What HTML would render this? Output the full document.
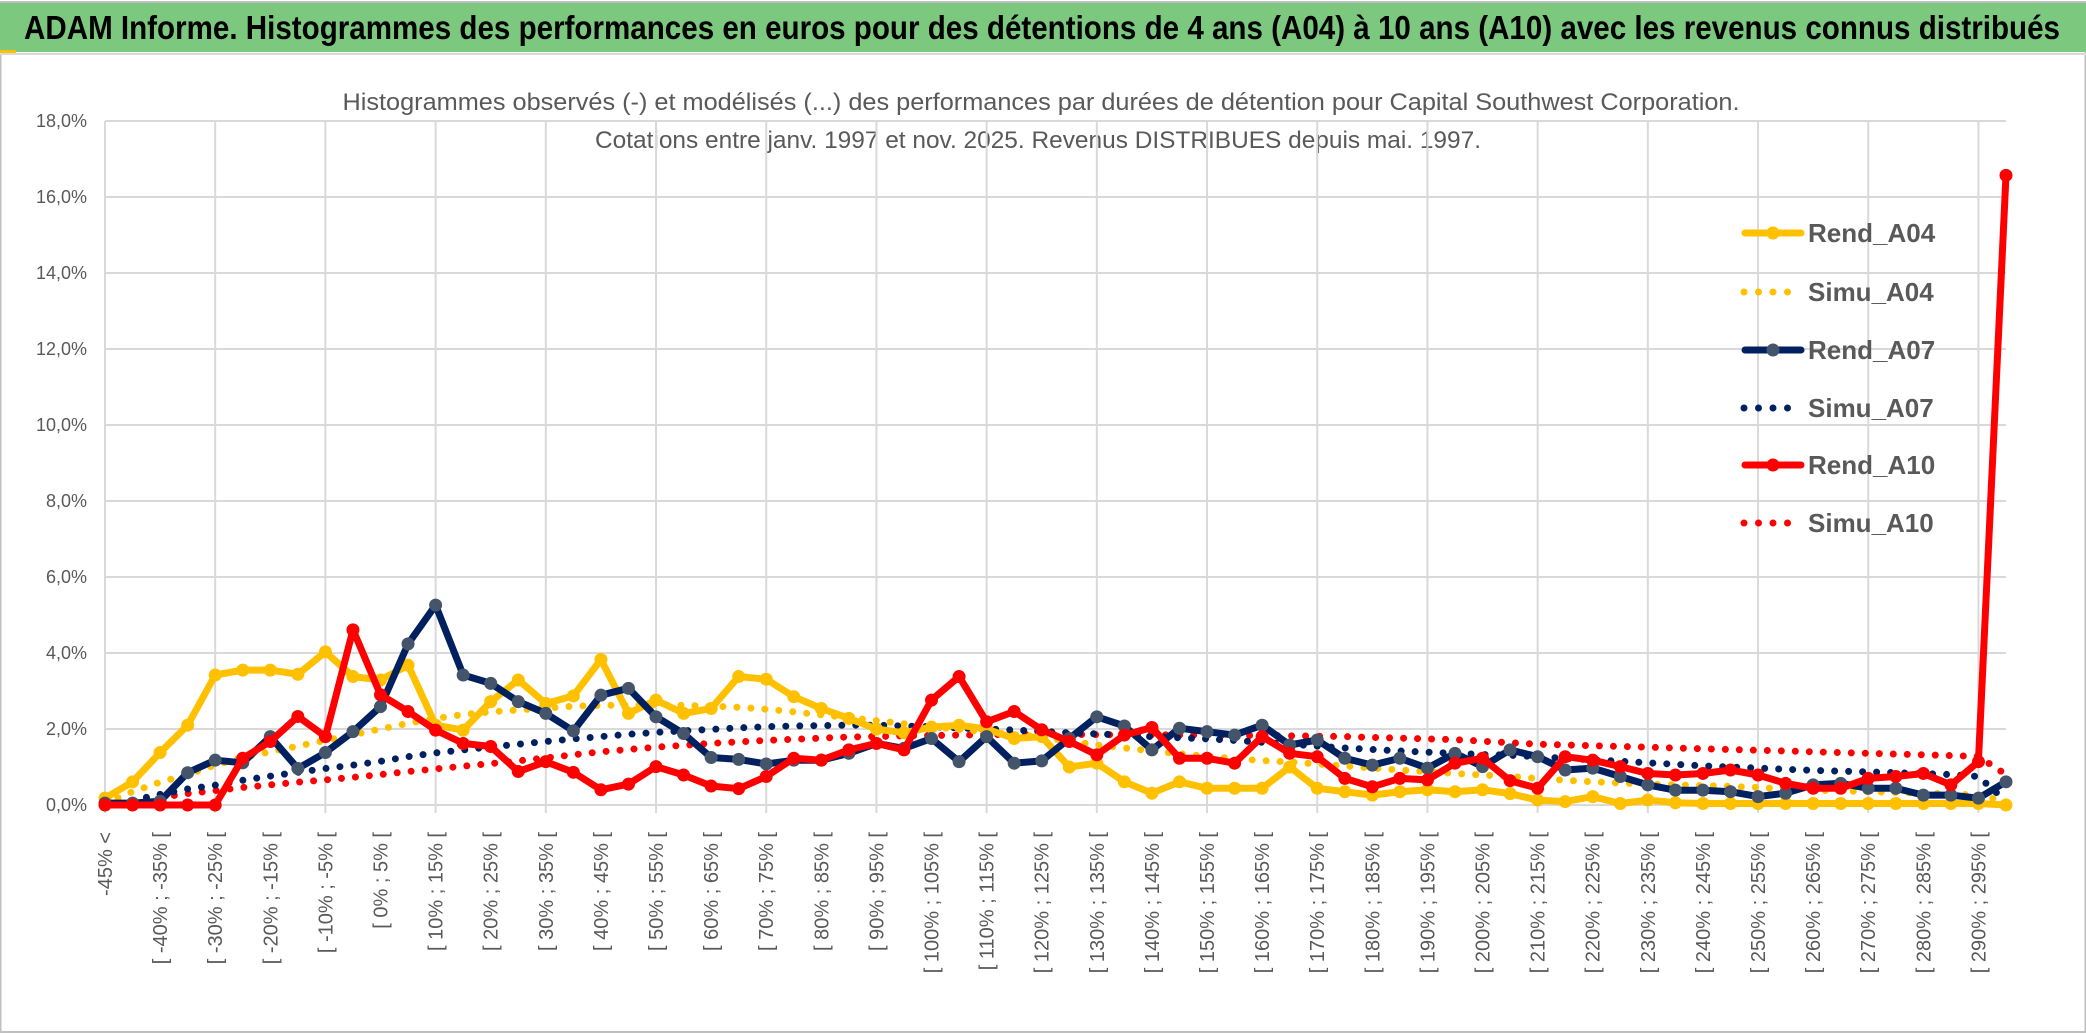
<!DOCTYPE html>
<html><head><meta charset="utf-8">
<style>
html,body{margin:0;padding:0;background:#fff;}
svg{display:block;}
text{font-family:"Liberation Sans Narrow","Liberation Sans",sans-serif;}
</style></head>
<body>
<svg id="chart" width="2086" height="1033" viewBox="0 0 2086 1033" xmlns="http://www.w3.org/2000/svg">
  <rect x="0" y="0" width="2086" height="1033" fill="#fff"/>
  <rect x="0.5" y="2" width="2085" height="1030" fill="none" stroke="#bfbfbf" stroke-width="2"/>
  <rect x="0" y="3" width="2086" height="49" fill="#7cc87e"/>
  <rect x="0" y="50" width="16" height="4" fill="#ffc000"/>
  <line x1="0" y1="54" x2="2086" y2="54" stroke="#d9d9d9" stroke-width="2"/>
  <text x="24" y="39" font-size="33" font-weight="bold" fill="#000" textLength="2036" lengthAdjust="spacingAndGlyphs">ADAM Informe. Histogrammes des performances en euros pour des détentions de 4 ans (A04) à 10 ans (A10) avec les revenus connus distribués</text>
  <text x="1041" y="110" font-size="24" fill="#595959" text-anchor="middle" textLength="1397" lengthAdjust="spacingAndGlyphs">Histogrammes observés (-) et modélisés (...) des performances par durées de détention pour Capital Southwest Corporation.</text>
  <text x="1038" y="148" font-size="24" fill="#595959" text-anchor="middle" textLength="886" lengthAdjust="spacingAndGlyphs">Cotations entre janv. 1997 et nov. 2025. Revenus DISTRIBUES depuis mai. 1997.</text>
  <g id="grid"></g>
  <g id="ylabels"></g>
  <g id="xlabels"></g>
  <g id="series"></g>
  <g id="legend"></g>
</svg>
<script>
const categoryCount = 70;
const yTicks = [0,2,4,6,8,10,12,14,16,18];
const rendA04 = [0.18,0.61,1.38,2.1,3.42,3.55,3.55,3.44,4.03,3.38,3.29,3.68,2.1,1.97,2.72,3.29,2.67,2.87,3.83,2.41,2.76,2.41,2.54,3.38,3.31,2.85,2.54,2.28,2.0,1.9,2.05,2.1,2.0,1.75,1.8,1.0,1.1,0.61,0.31,0.61,0.44,0.44,0.44,1.0,0.44,0.35,0.26,0.35,0.4,0.35,0.4,0.3,0.13,0.09,0.22,0.04,0.13,0.06,0.04,0.04,0.04,0.04,0.04,0.04,0.04,0.04,0.04,0.04,0.04,0.0];
const simuA04 = [0.05,0.35,0.6,0.8,1.05,1.25,1.4,1.55,1.7,1.85,2.0,2.15,2.28,2.38,2.45,2.5,2.55,2.6,2.62,2.63,2.63,2.62,2.6,2.57,2.52,2.45,2.37,2.3,2.22,2.14,2.06,1.99,1.92,1.85,1.79,1.68,1.58,1.5,1.42,1.35,1.28,1.22,1.17,1.13,1.08,1.03,0.97,0.92,0.88,0.83,0.79,0.75,0.7,0.65,0.61,0.58,0.55,0.53,0.51,0.49,0.46,0.42,0.39,0.37,0.35,0.33,0.31,0.29,0.26,0.1];
const rendA07 = [0.05,0.05,0.1,0.85,1.18,1.11,1.8,0.96,1.38,1.93,2.59,4.24,5.26,3.42,3.2,2.72,2.41,1.95,2.89,3.07,2.32,1.88,1.25,1.2,1.08,1.18,1.18,1.36,1.62,1.49,1.75,1.14,1.8,1.1,1.16,1.75,2.32,2.08,1.45,2.02,1.93,1.84,2.1,1.58,1.71,1.23,1.05,1.23,0.97,1.36,1.01,1.45,1.27,0.92,0.97,0.75,0.53,0.39,0.39,0.35,0.22,0.31,0.53,0.57,0.44,0.44,0.26,0.26,0.18,0.61];
const simuA07 = [0.02,0.12,0.28,0.42,0.52,0.65,0.76,0.86,0.96,1.05,1.15,1.27,1.37,1.45,1.53,1.6,1.67,1.74,1.8,1.86,1.91,1.95,1.99,2.03,2.06,2.08,2.09,2.1,2.1,2.08,2.06,2.03,2.0,1.97,1.94,1.9,1.87,1.84,1.8,1.77,1.74,1.7,1.65,1.6,1.55,1.5,1.46,1.42,1.39,1.36,1.33,1.31,1.27,1.23,1.19,1.15,1.11,1.07,1.03,1.0,0.97,0.94,0.91,0.89,0.87,0.85,0.83,0.8,0.75,0.1];
const rendA10 = [0,0,0,0,0,1.23,1.67,2.33,1.8,4.61,2.9,2.46,1.97,1.62,1.54,0.88,1.14,0.86,0.4,0.55,1.01,0.79,0.5,0.43,0.75,1.23,1.18,1.45,1.62,1.45,2.76,3.38,2.19,2.46,1.98,1.67,1.32,1.84,2.04,1.23,1.23,1.1,1.8,1.36,1.27,0.7,0.48,0.7,0.66,1.1,1.23,0.64,0.44,1.27,1.18,1.01,0.83,0.79,0.83,0.92,0.79,0.57,0.44,0.44,0.7,0.75,0.83,0.53,1.14,16.57];
const simuA10 = [0.0,0.1,0.2,0.3,0.38,0.46,0.53,0.6,0.66,0.73,0.8,0.88,0.95,1.02,1.09,1.16,1.24,1.32,1.4,1.46,1.52,1.57,1.62,1.66,1.7,1.73,1.76,1.79,1.8,1.82,1.83,1.84,1.85,1.86,1.86,1.86,1.85,1.85,1.85,1.84,1.84,1.83,1.83,1.82,1.81,1.8,1.78,1.76,1.74,1.72,1.68,1.64,1.6,1.58,1.56,1.54,1.52,1.5,1.48,1.46,1.44,1.42,1.4,1.38,1.36,1.34,1.32,1.3,1.28,0.8];
const legendNames = ["Rend_A04","Simu_A04","Rend_A07","Simu_A07","Rend_A10","Simu_A10"];

const NS = "http://www.w3.org/2000/svg";
const X0 = 105, X1 = 2006, Y0 = 805, Y1 = 121, YMAX = 18;
function xScale(i){ return X0 + i*(X1-X0)/(categoryCount-1); }
function yScale(v){ return Y0 - v*(Y0-Y1)/YMAX; }
function mk(tag, attrs, parent){ const e=document.createElementNS(NS,tag); for(const k in attrs) e.setAttribute(k,attrs[k]); parent.appendChild(e); return e; }
function catLabel(i){ if(i===0) return "-45% <"; const a=-50+5*i; return "[ "+a+"% ; "+(a+5)+"% ["; }

const grid=document.getElementById('grid');
for(const t of yTicks){
  const l=mk('line',{x1:X0,x2:X1,y1:yScale(t),y2:yScale(t),stroke:'#d9d9d9','stroke-width':2},grid);
  
  
}
for(let i=0;i<categoryCount;i+=4){
  const l=mk('line',{x1:xScale(i),x2:xScale(i),y1:Y1,y2:Y0+8,stroke:'#d9d9d9','stroke-width':2},grid);
  
  
}
const yl=document.getElementById('ylabels');
for(const t of yTicks){
  const tx=mk('text',{x:87,y:yScale(t)+6,'font-size':18,fill:'#595959','text-anchor':'end'},yl);
  tx.textContent=t.toFixed(1).replace('.',',')+'%';
  
  
}
const xl=document.getElementById('xlabels');
for(let i=0;i<categoryCount;i+=2){
  const x=xScale(i)+7;
  const tx=mk('text',{x:x,y:832,'font-size':20,fill:'#595959','text-anchor':'end',transform:'rotate(-90 '+x+' 832)'},xl);
  tx.textContent=catLabel(i);
  
  
}
const sg=document.getElementById('series');
function pts(arr){ return arr.map((v,i)=>xScale(i).toFixed(1)+','+yScale(v).toFixed(1)).join(' '); }
function dotted(arr,color,name){
  const p=mk('polyline',{points:pts(arr),fill:'none',stroke:color,'stroke-width':7,'stroke-linecap':'round','stroke-dasharray':'0 14'},sg);
  
  
}
function solid(arr,color,mcolor,name){
  const g=mk('g',{},sg);
  
  
  const p=mk('polyline',{points:pts(arr),fill:'none',stroke:color,'stroke-width':7,'stroke-linejoin':'round'},g);
  
  
  arr.forEach((v,i)=>{
    const c=mk('circle',{cx:xScale(i),cy:yScale(v),r:6.5,fill:mcolor},g);
    
    
  });
}
dotted(simuA10,'#ff0000','simu-a10-line');
dotted(simuA07,'#002060','simu-a07-line');
dotted(simuA04,'#ffc000','simu-a04-line');
solid(rendA04,'#ffc000','#ffc000','rend-a04-series');
solid(rendA07,'#002060','#44546a','rend-a07-series');
solid(rendA10,'#ff0000','#ff0000','rend-a10-series');

const lg=document.getElementById('legend');
const lcol=['#ffc000','#ffc000','#002060','#002060','#ff0000','#ff0000'];
const lmark=['#ffc000',null,'#44546a',null,'#ff0000',null];
const lrows=[233,292,350,408,465,523];
legendNames.forEach((n,k)=>{
  const g=mk('g',{},lg);
  
  
  const y=lrows[k];
  if(lmark[k]){
    mk('line',{x1:1745,x2:1801,y1:y,y2:y,stroke:lcol[k],'stroke-width':7,'stroke-linecap':'round'},g);
    mk('circle',{cx:1773,cy:y,r:6.5,fill:lmark[k]},g);
  } else {
    mk('line',{x1:1744,x2:1800,y1:y,y2:y,stroke:lcol[k],'stroke-width':7,'stroke-linecap':'round','stroke-dasharray':'0 14.5'},g);
  }
  const t=mk('text',{x:1808,y:y+9,'font-size':26,'font-weight':'bold',fill:'#595959'},g);
  t.textContent=n;
  
  
});
</script>
</body></html>
